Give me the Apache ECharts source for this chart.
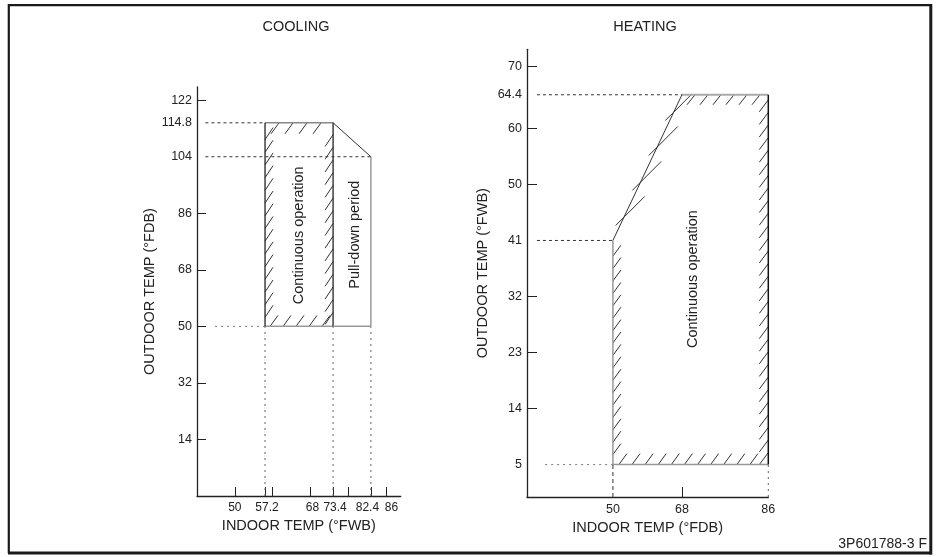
<!DOCTYPE html>
<html><head><meta charset="utf-8">
<script src="https://cdn.jsdelivr.net/npm/echarts@6/dist/echarts.min.js"></script>
<style>html,body{margin:0;padding:0;background:#fff}#c{width:940px;height:557px}</style>
</head><body><div id="c"></div>
<script>
// ---------- COOLING ----------
const coolXRange = [41, 89.5];
const coolYRange = [-4, 126.2];
const coolXTickValues = [50, 57.2, 59, 68, 73.4, 77, 82.4, 86];
const coolXLabelValues = [50, 57.2, 68, 73.4, 82.4, 86];
const coolYTickValues = [14, 32, 50, 68, 86, 122];
const coolYLabelValues = [14, 32, 50, 68, 86, 104, 114.8, 122];
const coolContinuous = [[57.2, 50], [57.2, 114.8], [73.4, 114.8], [73.4, 50]]; // BL, TL, TR, BR
const coolPullDown = [[73.4, 114.8], [82.4, 104], [82.4, 50], [73.4, 50]];
const coolGuidesH = [[43, 114.8, 57.2], [43, 104, 82.4], [45.3, 50, 57.2]];
const coolGuidesV = [[57.2, -4, 50], [73.4, -4, 50], [82.4, -4, 50]];
const coolTextAnchors = [[65.3, 79], [78.6, 79.2]];
const coolTexts = ['Continuous operation', 'Pull-down period'];

// ---------- HEATING ----------
const heatXRange = [30.1, 86];
const heatYRange = [-0.2, 71.7];
const heatXTickValues = [66];
const heatXLabelValues = [50, 66, 86];
const heatXLabelTexts = ['50', '68', '86'];
const heatYTickValues = [14, 23, 32, 50, 59, 69];
const heatYLabelValues = [5, 14, 23, 32, 41, 50, 59, 64.4, 69];
const heatYLabelTexts = ['5', '14', '23', '32', '41', '50', '60', '64.4', '70'];
const heatContinuous = [[50, 5], [50, 41], [66, 64.4], [86, 64.4], [86, 5]]; // BL, corner, TL, TR, BR
const heatGuidesH = [[32.4, 64.4, 66], [32.4, 41, 50], [34.3, 5, 50]];
const heatGuidesV = [[50, -0.2, 5], [86, -0.2, 5]];
const heatTextAnchors = [[68.5, 34.8]];
const heatTexts = ['Continuous operation'];

const FONT = "'Liberation Sans', Arial, sans-serif";
const TXT = '#222';

function seg(a, b, color, w) {
  return { type: 'line', shape: { x1: a[0], y1: a[1], x2: b[0], y2: b[1] }, style: { stroke: color, lineWidth: w } };
}
function hatchAlong(p0, p1, step, startOff, endOff, vec, anchorEnd) {
  const dx = p1[0] - p0[0], dy = p1[1] - p0[1], L = Math.hypot(dx, dy);
  const out = [];
  for (let t = startOff; t <= L - endOff; t += step) {
    const px = p0[0] + dx * t / L, py = p0[1] + dy * t / L;
    const s = anchorEnd ? [px - vec[0], py - vec[1]] : [px, py];
    const e = anchorEnd ? [px, py] : [px + vec[0], py + vec[1]];
    out.push(seg(s, e, '#333', 1));
  }
  return out;
}
function vText(p, text) {
  return { type: 'text', x: p[0], y: p[1], rotation: Math.PI / 2,
    style: { text: text, fill: TXT, font: '14.5px ' + FONT, align: 'center', verticalAlign: 'middle' } };
}

function renderCool(params, api) {
  const c = coolContinuous.map(p => api.coord(p));
  const [BL, TL, TR, BR] = c;
  const pd = coolPullDown.map(p => api.coord(p));
  const ch = [];
  ch.push(...hatchAlong(BL, TL, 12.7, 9, 8, [8, -12], false));
  ch.push(...hatchAlong(BR, TR, 12.7, 14, 2, [8, -12], true));
  ch.push(...hatchAlong(TL, TR, 14, 14, 6, [8, -11], true));
  ch.push(...hatchAlong(BL, BR, 13, 5, 10, [8, -11], false));
  ch.push(seg(TL, TR, '#888', 1.5));
  ch.push(seg(BL, BR, '#999', 1.5));
  ch.push(seg(BL, TL, '#222', 1.3));
  ch.push(seg(BR, TR, '#222', 1.3));
  ch.push(seg(pd[0], pd[1], '#333', 1));
  ch.push(seg(pd[1], pd[2], '#999', 1.5));
  ch.push(seg(pd[2], pd[3], '#999', 1.5));
  coolTextAnchors.forEach((a, i) => ch.push(vText(api.coord(a), coolTexts[i])));
  return { type: 'group', children: ch };
}

function renderHeat(params, api) {
  const c = heatContinuous.map(p => api.coord(p));
  const [BL, CR, TL, TR, BR] = c;
  const ch = [];
  ch.push(...hatchAlong(BL, CR, 12.4, 10, 4, [8, -11], false));
  ch.push(...hatchAlong(BL, BR, 13.1, 6, 8, [8, -11], false));
  ch.push(...hatchAlong(BR, TR, 12.6, 12, 2, [9, -12], true));
  ch.push(...hatchAlong(TL, TR, 13, 13, 6, [8, -10], true));
  const dxs = TL[0] - CR[0], dys = TL[1] - CR[1];
  for (let off = 29; off < -dys; off += 35) {
    const f = off / -dys;
    const p = [CR[0] + dxs * f, CR[1] + dys * f];
    let s = [p[0] - 11, p[1] + 14], e = [p[0] + 18, p[1] - 15];
    if (e[1] < TL[1]) { const k = (s[1] - TL[1]) / (s[1] - e[1]); e = [s[0] + (e[0] - s[0]) * k, TL[1]]; }
    ch.push(seg(s, e, '#333', 1));
  }
  ch.push(seg(TL, TR, '#aaa', 2));
  ch.push(seg(BL, BR, '#999', 1.5));
  ch.push(seg(BL, CR, '#999', 1.5));
  ch.push(seg(CR, TL, '#333', 1));
  ch.push(seg(BR, TR, '#111', 1.5));
  heatTextAnchors.forEach((a, i) => ch.push(vText(api.coord(a), heatTexts[i])));
  return { type: 'group', children: ch };
}

function guideSeries(list, horiz, xi, color, dash) {
  return list.map(g => ({
    type: 'line', xAxisIndex: xi, yAxisIndex: xi, symbol: 'none', silent: true, animation: false,
    data: horiz ? [[g[0], g[1]], [g[2], g[1]]] : [[g[0], g[1]], [g[0], g[2]]],
    lineStyle: { color: color, width: 1, type: dash }
  }));
}

function axisCommon(extra) {
  return Object.assign({
    type: 'value', splitLine: { show: false },
    axisLine: { show: true, onZero: false, lineStyle: { color: '#222', width: 1.3 } },
    nameLocation: 'middle', nameTextStyle: { fontSize: 14.5, color: TXT, fontFamily: FONT }
  }, extra);
}

// label nudges (style only)
const coolXRich = {
  c: { fontSize: 12, color: TXT, fontFamily: FONT },
  sl: { fontSize: 12, color: TXT, fontFamily: FONT, padding: [0, 7, 0, 0] },
  sr: { fontSize: 12, color: TXT, fontFamily: FONT, padding: [0, 0, 0, 11] },
  r2: { fontSize: 12, color: TXT, fontFamily: FONT, padding: [0, 0, 0, 4] }
};
function coolXFmt(v) {
  const s = String(v);
  if (v === 82.4) return '{sl|' + s + '}';
  if (v === 86) return '{sr|' + s + '}';
  if (v === 57.2 || v === 68 || v === 73.4) return '{r2|' + s + '}';
  return '{c|' + s + '}';
}

const chart = echarts.init(document.getElementById('c'), null, { renderer: 'canvas' });
chart.setOption({
  animation: false,
  backgroundColor: '#fff',
  textStyle: { fontFamily: FONT },
  grid: [
    { left: 197, top: 87, width: 203.7, height: 409 },
    { left: 527, top: 49.3, width: 241.3, height: 447.7 }
  ],
  xAxis: [
    axisCommon({ gridIndex: 0, min: coolXRange[0], max: coolXRange[1], name: 'INDOOR TEMP (°FWB)', nameGap: 17,
      axisTick: { show: true, inside: true, length: 9, customValues: coolXTickValues, lineStyle: { color: '#222' } },
      axisLabel: { customValues: coolXLabelValues, margin: 6, hideOverlap: false, showMinLabel: true, showMaxLabel: true,
        fontSize: 12, color: TXT, fontFamily: FONT, formatter: coolXFmt, rich: coolXRich } }),
    axisCommon({ gridIndex: 1, min: heatXRange[0], max: heatXRange[1], name: 'INDOOR TEMP (°FDB)', nameGap: 17,
      axisTick: { show: true, inside: true, length: 10, customValues: heatXTickValues, lineStyle: { color: '#222' } },
      axisLabel: { customValues: heatXLabelValues, margin: 6, hideOverlap: false, showMinLabel: true, showMaxLabel: true,
        fontSize: 12.5, color: TXT, fontFamily: FONT,
        formatter: v => { const i = heatXLabelValues.indexOf(v); return i >= 0 ? heatXLabelTexts[i] : ''; } } })
  ],
  yAxis: [
    axisCommon({ gridIndex: 0, min: coolYRange[0], max: coolYRange[1], name: 'OUTDOOR TEMP (°FDB)', nameGap: 40,
      axisTick: { show: true, inside: true, length: 9, customValues: coolYTickValues, lineStyle: { color: '#222' } },
      axisLabel: { customValues: coolYLabelValues, margin: 5, hideOverlap: false, fontSize: 12.5, color: TXT, fontFamily: FONT, formatter: v => String(v) } }),
    axisCommon({ gridIndex: 1, min: heatYRange[0], max: heatYRange[1], name: 'OUTDOOR TEMP (°FWB)', nameGap: 37,
      axisTick: { show: true, inside: true, length: 10, customValues: heatYTickValues, lineStyle: { color: '#222' } },
      axisLabel: { customValues: heatYLabelValues, margin: 5, hideOverlap: false, fontSize: 12.5, color: TXT, fontFamily: FONT,
        formatter: v => { const i = heatYLabelValues.indexOf(v); return i >= 0 ? heatYLabelTexts[i] : ''; } } })
  ],
  series: [
    ...guideSeries(coolGuidesH.slice(0, 2), true, 0, '#333', [3, 3]),
    ...guideSeries(coolGuidesH.slice(2), true, 0, '#777', [2, 4]),
    ...guideSeries(coolGuidesV, false, 0, '#666', [2, 4]),
    ...guideSeries(heatGuidesH.slice(0, 2), true, 1, '#333', [3, 3]),
    ...guideSeries(heatGuidesH.slice(2), true, 1, '#777', [2, 4]),
    ...guideSeries(heatGuidesV.slice(0, 1), false, 1, '#333', [4, 3]),
    ...guideSeries(heatGuidesV.slice(1), false, 1, '#666', [2, 4]),
    { type: 'custom', xAxisIndex: 0, yAxisIndex: 0, clip: false, silent: true, animation: false,
      data: [coolContinuous[0]], renderItem: renderCool },
    { type: 'custom', xAxisIndex: 1, yAxisIndex: 1, clip: false, silent: true, animation: false,
      data: [heatContinuous[0]], renderItem: renderHeat }
  ],
  graphic: [
    { type: 'text', x: 296, y: 27, style: { text: 'COOLING', font: '14.5px ' + FONT, fill: TXT, align: 'center', verticalAlign: 'middle' } },
    { type: 'text', x: 645, y: 27, style: { text: 'HEATING', font: '14.5px ' + FONT, fill: TXT, align: 'center', verticalAlign: 'middle' } },
    { type: 'text', x: 927, y: 544, style: { text: '3P601788-3 F', font: '14px ' + FONT, fill: TXT, align: 'right', verticalAlign: 'middle' } },
    { type: 'line', shape: { x1: 8.8, y1: 4, x2: 8.8, y2: 553 }, style: { stroke: '#1a1a1a', lineWidth: 2.2 } },
    { type: 'line', shape: { x1: 8, y1: 5.2, x2: 932, y2: 5.2 }, style: { stroke: '#1a1a1a', lineWidth: 2.2 } },
    { type: 'line', shape: { x1: 930.8, y1: 4, x2: 930.8, y2: 554.5 }, style: { stroke: '#1a1a1a', lineWidth: 3 } },
    { type: 'line', shape: { x1: 8, y1: 553, x2: 932, y2: 553 }, style: { stroke: '#1a1a1a', lineWidth: 3 } }
  ]
});
</script>
</body></html>
